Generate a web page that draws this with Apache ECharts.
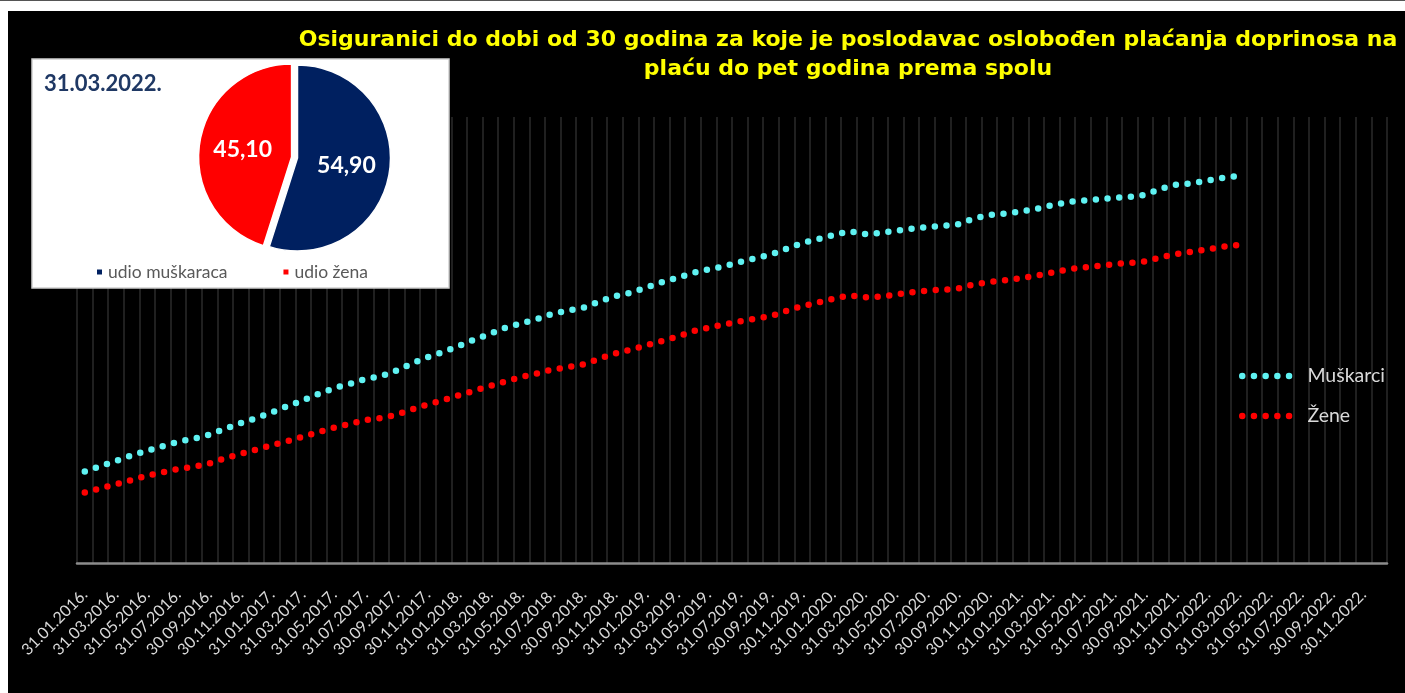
<!DOCTYPE html>
<html>
<head>
<meta charset="utf-8">
<script src="https://cdn.jsdelivr.net/npm/echarts@6/dist/echarts.min.js"></script>
<style>
  html, body { margin: 0; padding: 0; background: #ffffff; width: 1405px; height: 693px; overflow: hidden; }
  #topline { position: absolute; left: 0; top: 0; width: 1405px; height: 1px; background: #555; }
  #chart { position: absolute; left: 8px; top: 11px; width: 1397px; height: 682px; background: #000000; }
</style>
</head>
<body>
<div id="topline"></div>
<div id="chart"></div>
<script>
// Categories (month-end dates)
const categories = [
  '31.01.2016.','29.02.2016.','31.03.2016.','30.04.2016.','31.05.2016.','30.06.2016.','31.07.2016.','31.08.2016.','30.09.2016.','31.10.2016.','30.11.2016.','31.12.2016.',
  '31.01.2017.','28.02.2017.','31.03.2017.','30.04.2017.','31.05.2017.','30.06.2017.','31.07.2017.','31.08.2017.','30.09.2017.','31.10.2017.','30.11.2017.','31.12.2017.',
  '31.01.2018.','28.02.2018.','31.03.2018.','30.04.2018.','31.05.2018.','30.06.2018.','31.07.2018.','31.08.2018.','30.09.2018.','31.10.2018.','30.11.2018.','31.12.2018.',
  '31.01.2019.','28.02.2019.','31.03.2019.','30.04.2019.','31.05.2019.','30.06.2019.','31.07.2019.','31.08.2019.','30.09.2019.','31.10.2019.','30.11.2019.','31.12.2019.',
  '31.01.2020.','29.02.2020.','31.03.2020.','30.04.2020.','31.05.2020.','30.06.2020.','31.07.2020.','31.08.2020.','30.09.2020.','31.10.2020.','30.11.2020.','31.12.2020.',
  '31.01.2021.','28.02.2021.','31.03.2021.','30.04.2021.','31.05.2021.','30.06.2021.','31.07.2021.','31.08.2021.','30.09.2021.','31.10.2021.','30.11.2021.','31.12.2021.',
  '31.01.2022.','28.02.2022.','31.03.2022.','30.04.2022.','31.05.2022.','30.06.2022.','31.07.2022.','31.08.2022.','30.09.2022.','31.10.2022.','30.11.2022.','31.12.2022.'
];

// Series values
const muskarci = [
  10259,10864,11446,12051,12589,13104,13597,13944,14381,15042,15691,16240,
  16901,17584,18256,18973,19611,20093,20642,20933,21582,22378,23094,23654,
  24349,25054,25715,26376,26880,27350,27955,28302,28650,29299,29926,30307,
  30890,31472,31976,32525,32906,33253,33746,34171,34586,35224,35874,36299,
  36747,37206,36893,37005,37229,37475,37643,37789,37990,38618,39010,39178,
  39390,39704,40096,40454,40634,40779,40947,41037,41283,41955,42414,42571,
  42874,43198,43411
];
const zene = [
  7907,8378,8826,9307,9778,10181,10539,10786,11166,11738,12230,12712,
  13205,13653,14168,14694,15176,15590,16038,16251,16632,17226,17786,18256,
  18805,19331,19846,20362,20854,21246,21694,21963,22288,22904,23486,23923,
  24394,24875,25379,25984,26387,26734,27082,27395,27664,28258,28806,29187,
  29635,29994,29792,29859,30094,30330,30542,30632,30766,31237,31494,31696,
  31909,32211,32547,32906,33130,33320,33510,33634,33802,34283,34642,34910,
  35157,35459,35650
];
const seriesNames = ['Muškarci', 'Žene'];

// Pie inset
const pieDate = '31.03.2022.';
const pieNames = ['udio muškaraca', 'udio žena'];
const pieValues = [54.90, 45.10];

const titleLines = [
  'Osiguranici do dobi od 30 godina za koje je poslodavac oslobođen plaćanja doprinosa na',
  'plaću do pet godina prema spolu'
];

const chart = echarts.init(document.getElementById('chart'), null, { renderer: 'canvas' });

const dotLine = (color) => ({ color: color, width: 6.5, type: [0, 11.7], cap: 'round', join: 'round' });

// five round dots used as the legend key (dotted line sample)
const r = 3.25;
let dotsPath = 'path://';
for (let k = 0; k < 5; k++) {
  const cx = r + k * 11.7;
  dotsPath += 'M' + (cx - r) + ',' + r + ' a' + r + ',' + r + ' 0 1,0 ' + (2 * r) + ',0 a' + r + ',' + r + ' 0 1,0 ' + (-2 * r) + ',0 Z ';
}

const option = {
  backgroundColor: '#000000',
  animation: false,
  textStyle: { fontFamily: 'Lato' },
  graphic: [
    { type: 'text', x: 840, y: 29, z: 10,
      style: { text: titleLines[0], fill: '#ffff00', font: 'bold 22px "DejaVu Sans"', textAlign: 'center', textVerticalAlign: 'middle' } },
    { type: 'text', x: 840, y: 58, z: 10,
      style: { text: titleLines[1], fill: '#ffff00', font: 'bold 22px "DejaVu Sans"', textAlign: 'center', textVerticalAlign: 'middle' } },
    { type: 'rect', z: 1, shape: { x: 24, y: 48, width: 417, height: 229 },
      style: { fill: '#ffffff', stroke: '#d0d0d0', lineWidth: 1.5 } },
    { type: 'text', x: 36, y: 73, z: 10,
      style: { text: pieDate, fill: '#1f3864', font: 'bold 22px Lato', textAlign: 'left', textVerticalAlign: 'middle' } }
  ],
  legend: [
    {
      data: seriesNames,
      orient: 'vertical',
      left: 1231, top: 355,
      icon: dotsPath,
      itemWidth: 53.5, itemHeight: 6.5, itemGap: 20,
      padding: 0,
      textStyle: { color: '#d9d9d9', fontSize: 19.5, fontFamily: 'Lato', padding: [0, 0, 0, 10] }
    },
    {
      data: pieNames,
      orient: 'horizontal',
      left: 87, top: 252,
      icon: 'rect', itemWidth: 7, itemHeight: 7, itemGap: 54,
      padding: 0,
      textStyle: { color: '#595959', fontSize: 17.5, fontFamily: 'Lato' }
    }
  ],
  grid: { left: 69, right: 18, top: 106, bottom: 130, containLabel: false },
  xAxis: {
    type: 'category',
    data: categories,
    boundaryGap: true,
    axisLine: { show: true, lineStyle: { color: '#8c8c8c', width: 2.5 } },
    axisTick: { show: false },
    splitLine: { show: true, interval: 0, lineStyle: { color: '#2b2b2b', width: 1.5 } },
    axisLabel: { interval: 1, rotate: 45, margin: 29, color: '#d9d9d9', fontSize: 16, fontFamily: 'Lato' }
  },
  yAxis: { type: 'value', show: false, min: 0, max: 50000, splitLine: { show: false } },
  series: [
    { name: seriesNames[0], type: 'line', data: muskarci, symbol: 'none', smooth: false,
      lineStyle: dotLine('#5ff2f2'), itemStyle: { color: '#5ff2f2' }, z: 3 },
    { name: seriesNames[1], type: 'line', data: zene, symbol: 'none', smooth: false,
      lineStyle: dotLine('#ff0000'), itemStyle: { color: '#ff0000' }, z: 3 },
    {
      type: 'pie', z: 5,
      center: [289.5, 147], radius: 93,
      startAngle: 90, clockwise: true,
      selectedMode: 'single', selectedOffset: 6,
      avoidLabelOverlap: false,
      label: { show: true, position: 'inside', color: '#ffffff', fontSize: 23, fontWeight: 'bold', fontFamily: 'Lato',
        formatter: (p) => p.value.toFixed(2).replace('.', ',') },
      labelLine: { show: false },
      itemStyle: { borderColor: '#ffffff', borderWidth: 1.5 },
      emphasis: { disabled: true },
      data: [
        { name: pieNames[0], value: pieValues[0], itemStyle: { color: '#002060' } },
        { name: pieNames[1], value: pieValues[1], itemStyle: { color: '#ff0000' }, selected: true }
      ]
    }
  ]
};

chart.setOption(option);
</script>
</body>
</html>
